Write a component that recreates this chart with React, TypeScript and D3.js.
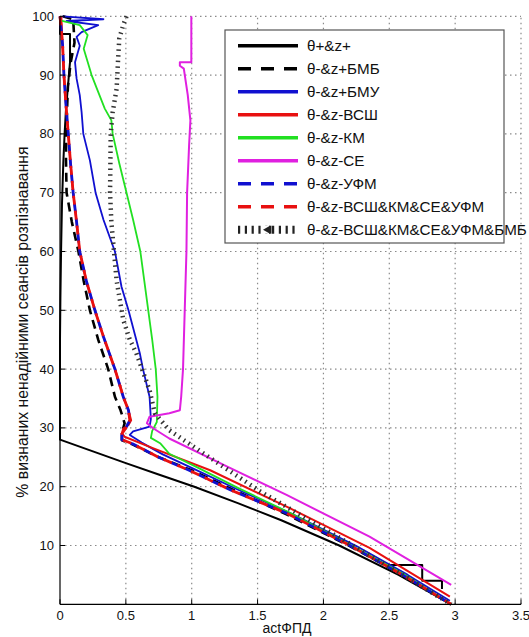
import React from 'react';
import * as d3 from 'd3';

type P = [number, number];

const xTicks = [0, 0.5, 1, 1.5, 2, 2.5, 3, 3.5];
const xTickLabels = ['0', '0.5', '1', '1.5', '2', '2.5', '3', '3.5'];
const yTicks = [10, 20, 30, 40, 50, 60, 70, 80, 90, 100];
const yTickLabels = ['10', '20', '30', '40', '50', '60', '70', '80', '90', '100'];

const seriesNames = [
  'θ+&z+',
  'θ-&z+БМБ',
  'θ-&z+БМУ',
  'θ-&z-ВСШ',
  'θ-&z-КМ',
  'θ-&z-СЕ',
  'θ-&z-УФМ',
  'θ-&z-ВСШ&КМ&СЕ&УФМ',
  'θ-&z-ВСШ&КМ&СЕ&УФМ&БМБ',
];

const blackSolid: P[] = [
  [0, 100], [0, 97], [0.076, 97], [0.076, 92.2], [0.06, 88], [0.045, 84], [0.035, 80], [0.025, 75],
  [0.015, 68], [0.008, 60], [0.003, 52], [0, 45], [0, 28], [0.25, 26], [0.5, 24], [0.76, 22],
  [1.02, 20], [1.35, 17.2], [1.68, 14.3], [2.12, 10], [2.57, 5], [2.97, 0],
];
const blackSolidStep: P[] = [[2.5, 6.7], [2.75, 6.7], [2.75, 4.0], [2.9, 4.0], [2.9, 2.6]];

const blackDashed: P[] = [
  [0.02, 100], [0.1, 99.5], [0.11, 95.5], [0.08, 92], [0.06, 88], [0.05, 82], [0.045, 76], [0.05, 70],
  [0.09, 65], [0.14, 60], [0.18, 55], [0.227, 50], [0.29, 45], [0.366, 40], [0.417, 35.3], [0.46, 33],
  [0.49, 30.8], [0.47, 29], [0.47, 27.9], [0.55, 27.2], [0.75, 25], [1.0, 22.8], [1.32, 19.4],
  [1.72, 15.3], [2.2, 9.9], [2.6, 5], [2.97, 0],
];

const blueSolid: P[] = [
  [0.02, 100], [0.33, 99.5], [0.05, 99.2], [0.29, 98.5], [0.164, 97.3], [0.126, 96.5], [0.15, 95],
  [0.114, 92.2], [0.126, 89.4], [0.15, 86.6], [0.164, 83.7], [0.177, 80], [0.227, 75.5], [0.27, 70],
  [0.33, 65.4], [0.417, 60], [0.467, 54], [0.52, 50], [0.606, 42.7], [0.63, 40], [0.68, 35.3],
  [0.69, 31.5], [0.68, 30.2], [0.555, 29.4], [0.53, 28.8], [0.62, 27.5], [0.78, 25.5], [1.02, 23.0],
  [1.34, 19.6], [1.76, 15.4], [2.25, 9.9], [2.64, 5], [2.96, 0.6],
];

const redSolid: P[] = [
  [0.01, 100], [0.02, 95], [0.03, 90], [0.045, 85], [0.063, 80], [0.08, 75], [0.1, 70], [0.126, 65],
  [0.15, 60], [0.2, 55], [0.265, 50], [0.33, 45.5], [0.417, 40], [0.46, 37], [0.48, 35.3], [0.52, 33],
  [0.54, 31.3], [0.52, 30.5], [0.48, 29.9], [0.47, 29.1], [0.49, 28.5], [0.7, 26.6], [1.14, 22.8],
  [1.74, 16.4], [2.35, 9.6], [2.96, 1.3],
];

const greenSolid: P[] = [
  [0, 99.3], [0.15, 98.5], [0.21, 96.8], [0.18, 94.5], [0.24, 90], [0.28, 87.7], [0.34, 84.3],
  [0.39, 82.3], [0.4, 80], [0.45, 75], [0.505, 70], [0.555, 65.4], [0.61, 60], [0.64, 55], [0.67, 50],
  [0.7, 45], [0.727, 40], [0.74, 35.3], [0.735, 31], [0.7, 29.5], [0.69, 28.3], [0.76, 27.4],
  [0.83, 25.6], [1.05, 23.2], [1.35, 19.8], [1.76, 15.4], [2.22, 9.9], [2.62, 5], [2.97, 0],
];

const magentaSolid: P[] = [
  [0.997, 100], [0.997, 92.2], [0.91, 92.2], [0.91, 91.6], [0.94, 91.1], [0.97, 86.6], [0.99, 82.3],
  [0.98, 78], [0.965, 70], [0.96, 60], [0.947, 50], [0.934, 40], [0.92, 35.3], [0.91, 33], [0.83, 32.5],
  [0.68, 31.9], [0.66, 30.8], [0.71, 29.9], [0.83, 28.2], [1.27, 23.4], [1.72, 18.6], [2.35, 11.5],
  [2.97, 3.3],
];

const blueDashed: P[] = [
  [0, 100], [0.02, 95], [0.03, 90], [0.045, 85], [0.063, 80], [0.08, 75], [0.1, 70], [0.126, 65],
  [0.15, 60], [0.2, 55], [0.265, 50], [0.33, 45.5], [0.417, 40], [0.48, 35.3], [0.52, 33], [0.53, 31.3],
  [0.5, 30], [0.47, 29], [0.47, 28], [0.55, 27.3], [0.75, 25], [0.98, 22.8], [1.3, 19.4], [1.72, 15.5],
  [2.2, 10], [2.6, 5], [2.97, 0],
];

const redDashed: P[] = [
  [0, 100], [0.02, 95], [0.03, 90], [0.045, 85], [0.063, 80], [0.08, 75], [0.1, 70], [0.126, 65],
  [0.15, 60], [0.2, 55], [0.265, 50], [0.33, 45.5], [0.417, 40], [0.48, 35.3], [0.52, 33], [0.53, 31.3],
  [0.5, 30], [0.47, 29], [0.47, 28], [0.55, 27.3], [0.75, 25], [0.98, 22.8], [1.3, 19.4], [1.72, 15.5],
  [2.2, 10], [2.6, 5], [2.97, 0],
];

const blackDotted: P[] = [
  [0.505, 100], [0.48, 98.5], [0.45, 96.2], [0.44, 92.2], [0.43, 87.7], [0.4, 83.7], [0.385, 80],
  [0.38, 70], [0.39, 65], [0.41, 60], [0.43, 55], [0.48, 48.4], [0.53, 45], [0.58, 42.7], [0.68, 36.4],
  [0.72, 32.5], [0.83, 29.6], [1.1, 25.5], [1.52, 19.2], [1.8, 15.5], [2.2, 10.3], [2.6, 5], [2.97, 0],
];

const FONT = 'Liberation Sans, Arial, Helvetica, sans-serif';

type Style = { color: string; width: number; dash?: string; offset?: number; hatch?: boolean };

const styles: Style[] = [
  { color: '#000000', width: 2 },
  { color: '#000000', width: 2.6, dash: '9,6' },
  { color: '#1010d0', width: 1.8 },
  { color: '#e81010', width: 2 },
  { color: '#22e022', width: 1.8 },
  { color: '#e020e0', width: 2 },
  { color: '#1010d0', width: 2.8, dash: '9,6', offset: 7 },
  { color: '#e81010', width: 2.8, dash: '9,6' },
  { color: '#333333', width: 4.5, dash: '1.5,4.2', hatch: true },
];

export default function App() {
  const W = 529;
  const H = 637;
  const x = d3.scaleLinear().domain([0, 3.5]).range([60, 521]);
  const y = d3.scaleLinear().domain([0, 100]).range([604.3, 16.3]);
  const line = d3.line<P>().x((d) => x(d[0])).y((d) => y(d[1]));

  const data: P[][][] = [
    [blackSolid, blackSolidStep],
    [blackDashed],
    [blueSolid],
    [redSolid],
    [greenSolid],
    [magentaSolid],
    [blueDashed],
    [redDashed],
    [blackDotted],
  ];

  const gridColor = '#8a8a8a';
  const lgX = 225, lgY = 30, lgW = 279, lgH = 213;
  const rowY = (i: number) => 45.7 + i * 23;

  return (
    <svg width={W} height={H} style={{ position: 'absolute', left: 0, top: 0, background: '#fff' }}
      fontFamily={FONT}>
      <rect x={0} y={0} width={W} height={H} fill="#fff" />
      {xTicks.slice(1).map((t) => (
        <line key={'gx' + t} x1={x(t)} x2={x(t)} y1={y(0)} y2={y(100)} stroke={gridColor}
          strokeWidth={1.2} strokeDasharray="1.5,3.5" />
      ))}
      {yTicks.map((t) => (
        <line key={'gy' + t} x1={x(0)} x2={x(3.5)} y1={y(t)} y2={y(t)} stroke={gridColor}
          strokeWidth={1.2} strokeDasharray="1.5,3.5" />
      ))}
      {data.map((segs, i) =>
        segs.map((seg, j) => (
          <path key={'s' + i + '-' + j} d={line(seg) || ''} fill="none" stroke={styles[i].color}
            strokeWidth={styles[i].width} strokeDasharray={styles[i].dash}
            strokeDashoffset={styles[i].offset || 0}
            strokeLinejoin="round" strokeLinecap="butt" />
        ))
      )}
      <line x1={x(0)} x2={x(0)} y1={y(0)} y2={y(100)} stroke="#000" strokeWidth={1.2} />
      <line x1={x(0)} x2={x(3.5)} y1={y(0)} y2={y(0)} stroke="#000" strokeWidth={1.2} />
      {xTicks.map((t, i) => (
        <g key={'xt' + t}>
          <line x1={x(t)} x2={x(t)} y1={y(0)} y2={y(0) - 5} stroke="#000" strokeWidth={1} />
          <text x={x(t)} y={620} textAnchor="middle" fontSize={13} fill="#111">{xTickLabels[i]}</text>
        </g>
      ))}
      {yTicks.map((t, i) => (
        <g key={'yt' + t}>
          <line x1={x(0)} x2={x(0) + 5} y1={y(t)} y2={y(t)} stroke="#000" strokeWidth={1} />
          <text x={54} y={y(t) + 4.5} textAnchor="end" fontSize={13} fill="#111">{yTickLabels[i]}</text>
        </g>
      ))}
      <text x={287} y={633} textAnchor="middle" fontSize={14} fill="#111">actФПД</text>
      <text transform={`translate(28,322) rotate(-90)`} textAnchor="middle" fontSize={15.8} fill="#111">
        % визнаних ненадійними сеансів розпізнавання
      </text>
      <rect x={lgX} y={lgY} width={lgW} height={lgH} fill="#fff" stroke="#555" strokeWidth={1.2} />
      {seriesNames.map((name, i) => {
        const st = styles[i];
        const ry = rowY(i);
        return (
          <g key={'lg' + i}>
            {st.hatch ? (
              <g>
                <line x1={238} x2={298} y1={ry} y2={ry} stroke="#222" strokeWidth={8}
                  strokeDasharray="2.2,4.6" />
                <rect x={262} y={ry - 4} width={9} height={8} fill="#fff" />
                <path d={`M${263},${ry} L${270},${ry - 4} L${270},${ry + 4} Z`} fill="#222" />
                <rect x={269} y={ry - 4} width={2.5} height={8} fill="#222" />
              </g>
            ) : (
              <line x1={238} x2={298} y1={ry} y2={ry} stroke={st.color} strokeWidth={3.5}
                strokeDasharray={st.dash ? '13,10' : undefined} />
            )}
            <text x={307} y={ry + 5} fontSize={15.2} fill="#111">{name}</text>
          </g>
        );
      })}
    </svg>
  );
}
